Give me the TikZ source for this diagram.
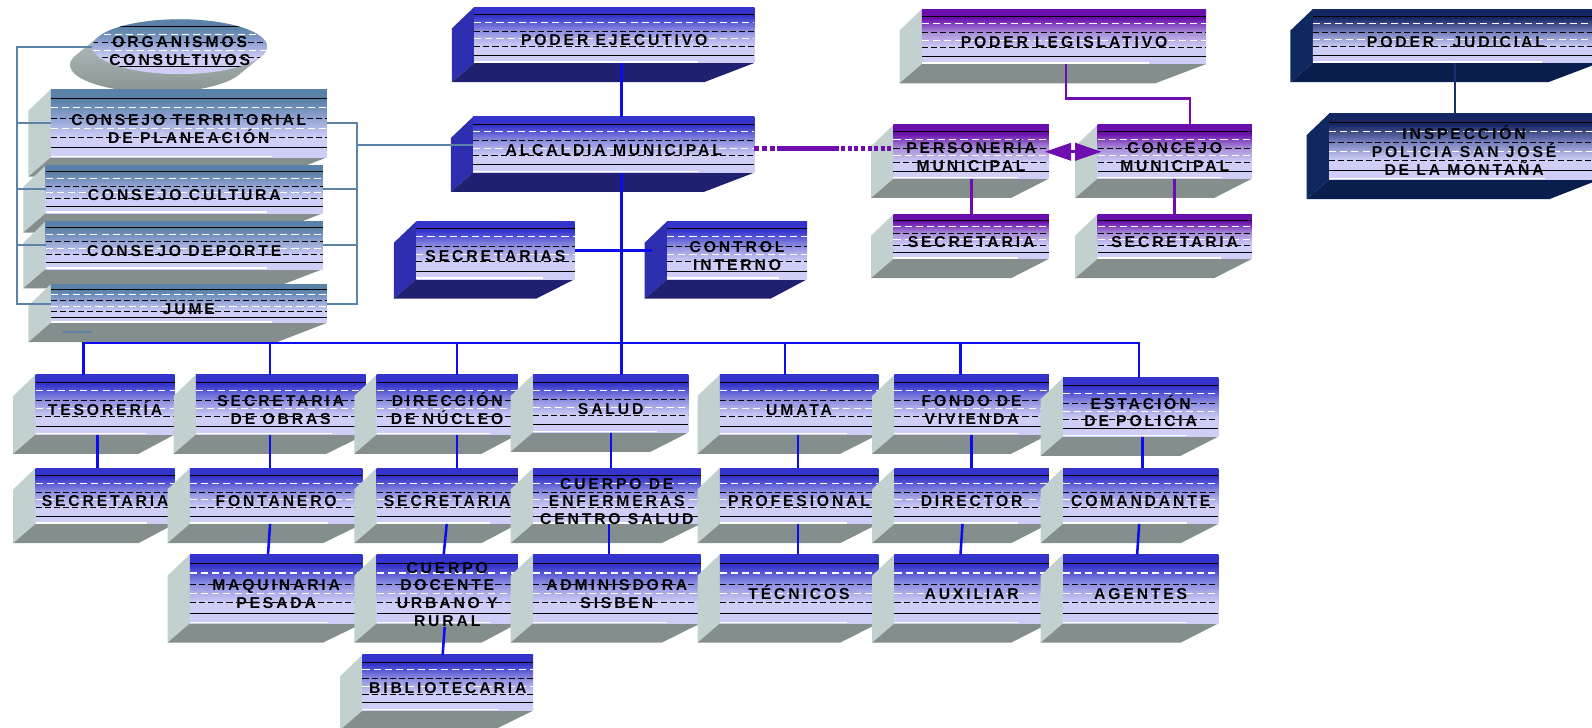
\documentclass[tikz,border=0pt]{standalone}
\usepackage{fontspec}
\newfontfamily\lab[LetterSpace=18]{Liberation Sans}
\usetikzlibrary{calc,shapes.geometric,arrows.meta}

\definecolor{lav}{RGB}{206,206,246}
\definecolor{bluetop}{RGB}{52,52,204}
\definecolor{bluemid}{RGB}{140,140,224}
\definecolor{exside}{RGB}{46,46,176}
\definecolor{exbot}{RGB}{32,32,112}
\definecolor{navytop}{RGB}{22,38,98}
\definecolor{navymid}{RGB}{115,125,185}
\definecolor{nvside}{RGB}{14,40,96}
\definecolor{nvbot}{RGB}{10,30,78}
\definecolor{purtop}{RGB}{106,14,172}
\definecolor{purmid}{RGB}{168,140,216}
\definecolor{steeltop}{RGB}{90,130,168}
\definecolor{steelmid}{RGB}{145,162,210}
\definecolor{gyside}{RGB}{194,208,207}
\definecolor{gybot}{RGB}{132,142,140}
\definecolor{lnblue}{RGB}{12,12,240}
\definecolor{lnsteel}{RGB}{92,132,170}
\definecolor{lnpur}{RGB}{110,14,176}
\definecolor{lnnavy}{RGB}{22,50,110}

\pgfdeclareverticalshading{shblue}{100bp}{color(0bp)=(lav); color(25bp)=(lav); color(40bp)=(lav); color(54bp)=(bluemid); color(67bp)=(bluetop); color(75bp)=(bluetop); color(100bp)=(bluetop)}
\pgfdeclareverticalshading{shpur}{100bp}{color(0bp)=(lav); color(25bp)=(lav); color(40bp)=(lav); color(54bp)=(purmid); color(67bp)=(purtop); color(75bp)=(purtop); color(100bp)=(purtop)}
\pgfdeclareverticalshading{shnavy}{100bp}{color(0bp)=(lav); color(25bp)=(lav); color(40bp)=(lav); color(54bp)=(navymid); color(67bp)=(navytop); color(75bp)=(navytop); color(100bp)=(navytop)}
\pgfdeclareverticalshading{shsteel}{100bp}{color(0bp)=(lav); color(25bp)=(lav); color(40bp)=(lav); color(54bp)=(steelmid); color(67bp)=(steeltop); color(75bp)=(steeltop); color(100bp)=(steeltop)}

\tikzset{
 bk/.style={black,line width=0.8pt},
 bkd/.style={black,line width=0.8pt,dash pattern=on 6pt off 3pt},
 whd/.style={white,line width=1pt,dash pattern=on 7pt off 4pt},
 frontbox/.style={rectangle,inner sep=0pt,outer sep=0pt,draw=none},
 txt/.style={font=\lab\bfseries\fontsize{15.5}{17.5}\selectfont,align=center,inner sep=0pt,text=black},
 bln/.style={draw=lnblue,line width=2.5pt},
 stl/.style={draw=lnsteel,line width=2pt},
 pln/.style={draw=lnpur,line width=2.5pt},
 nln/.style={draw=lnnavy,line width=2.5pt},
}

% name, x1, y1, x2, y2, side colour, bottom colour, shading, text
\newcommand\obox[9]{%
  \pgfmathsetmacro\obW{#4-#2}%
  \pgfmathsetmacro\obH{#5-#3}%
  \pgfmathsetmacro\obR{22+0.1*\obW}%
  \fill[#6] (#2,#3) -- (#2-22,#3+21) -- (#2-22,#5+19) -- (#2,#5) -- cycle;
  \fill[#7] (#2,#5) -- (#4,#5) -- (#4-\obR,#5+19) -- (#2-22,#5+19) -- cycle;
  \shade[shading=#8] (#2,#3) rectangle (#4,#5);
  \foreach \f in {0.13,0.86}{\draw[bk] (#2,#3+\f*\obH) -- (#4,#3+\f*\obH);}
  \foreach \f in {0.43,0.70}{\draw[bkd] (#2,#3+\f*\obH) -- (#4,#3+\f*\obH);}
  \foreach \f in {0.27,0.57}{\draw[whd] (#2,#3+\f*\obH) -- (#4,#3+\f*\obH);}
  \draw[white,line width=1.5pt] (#2,#5-1) -- (#4-0.2*\obW,#5-1);
  \node[frontbox, minimum width=\obW pt, minimum height=\obH pt] (#1) at ({(#2+#4)/2},{(#3+#5)/2}) {};
  \begin{scope}
    \clip (#2-25,#3-40) rectangle (#4+1,#5+40);
    \node[txt] (#1-t) at ($(#1)+(0,4)$) {\vphantom{Í}#9};
  \end{scope}
}

\begin{document}
\begin{tikzpicture}[x=1pt,y=-1pt]
\useasboundingbox (0,0) rectangle (1568,717);

% ---------- organismos consultivos (ellipse) ----------
\begin{scope}
  \clip (177,46) ellipse (86 and 27) \foreach \t in {1,...,20}{ (177-1.1*\t,46+0.9*\t) ellipse (86 and 27)};
  \shade[top color=gyside, bottom color=gybot] (60,10) rectangle (270,100);
\end{scope}
\begin{scope}
  \clip (177,46) ellipse (86 and 27);
  \shade[shading=shsteel] (91,19) rectangle (263,73);
  \foreach \f in {0.13,0.86}{\draw[bk] (91,19+\f*54) -- (263,19+\f*54);}
  \foreach \f in {0.43,0.70}{\draw[bkd] (91,19+\f*54) -- (263,19+\f*54);}
  \foreach \f in {0.27,0.57}{\draw[whd] (91,19+\f*54) -- (263,19+\f*54);}
\end{scope}
\node[ellipse, minimum width=172pt, minimum height=54pt, inner sep=0pt] (org) at (177,46) {};
\node[txt] (org-t) at (177,50) {ORGANISMOS\\CONSULTIVOS};

% ---------- consejos ----------
\obox{ter}{50}{88}{322}{155}{gyside}{gybot}{shsteel}{CONSEJO TERRITORIAL\\DE PLANEACIÓN}
\obox{cul}{45}{163}{318}{210}{gyside}{gybot}{shsteel}{CONSEJO CULTURA}
\obox{dep}{45}{218}{318}{265}{gyside}{gybot}{shsteel}{CONSEJO DEPORTE}
\obox{jume}{50}{280}{322}{318}{gyside}{gybot}{shsteel}{JUME}
\draw[stl] (62,327) -- (91,327);

% ---------- ejecutivo ----------
\obox{pe}{467}{7}{743}{62}{exside}{exbot}{shblue}{PODER EJECUTIVO}
\obox{alc}{466}{115}{743}{170}{exside}{exbot}{shblue}{ALCALDIA MUNICIPAL}
\obox{secs}{410}{218}{566}{275}{exside}{exbot}{shblue}{SECRETARIAS}
\obox{ctrl}{657}{218}{795}{275}{exside}{exbot}{shblue}{CONTROL\\INTERNO}

% ---------- legislativo ----------
\obox{pleg}{908}{9}{1188}{63}{gyside}{gybot}{shpur}{PODER LEGISLATIVO}
\obox{pers}{880}{123}{1033}{176}{gyside}{gybot}{shpur}{PERSONERÍA\\MUNICIPAL}
\obox{conc}{1081}{123}{1233}{176}{gyside}{gybot}{shpur}{CONCEJO\\MUNICIPAL}
\obox{lsec1}{880}{211}{1033}{255}{gyside}{gybot}{shpur}{SECRETARIA}
\obox{lsec2}{1081}{211}{1233}{255}{gyside}{gybot}{shpur}{SECRETARIA}

% ---------- judicial ----------
\obox{pj}{1293}{9}{1575}{62}{nvside}{nvbot}{shnavy}{PODER\hspace{18pt}JUDICIAL}
\obox{insp}{1309}{112}{1575}{177}{nvside}{nvbot}{shnavy}{INSPECCIÓN\\POLICIA SAN JOSÉ\\DE LA MONTAÑA}

% ---------- row 1 ----------
\obox{tes}{35}{369}{172}{428}{gyside}{gybot}{shblue}{TESORERÍA}
\obox{obr}{193}{369}{360}{428}{gyside}{gybot}{shblue}{SECRETARIA\\DE OBRAS}
\obox{dir}{371}{369}{510}{428}{gyside}{gybot}{shblue}{DIRECCIÓN\\DE NÚCLEO}
\obox{sal}{525}{369}{678}{426}{gyside}{gybot}{shblue}{SALUD}
\obox{uma}{709}{369}{865}{428}{gyside}{gybot}{shblue}{UMATA}
\obox{fon}{881}{369}{1033}{428}{gyside}{gybot}{shblue}{FONDO DE\\VIVIENDA}
\obox{est}{1047}{372}{1200}{430}{gyside}{gybot}{shblue}{ESTACIÓN\\DE POLICIA}

% ---------- row 2 ----------
\obox{s1}{35}{461}{172}{516}{gyside}{gybot}{shblue}{SECRETARIA}
\obox{fnt}{187}{461}{357}{516}{gyside}{gybot}{shblue}{FONTANERO}
\obox{s2}{371}{461}{510}{516}{gyside}{gybot}{shblue}{SECRETARIA}
\obox{enf}{525}{461}{690}{516}{gyside}{gybot}{shblue}{CUERPO DE\\ENFERMERAS\\CENTRO SALUD}
\obox{pro}{709}{461}{865}{516}{gyside}{gybot}{shblue}{PROFESIONAL}
\obox{drc}{881}{461}{1033}{516}{gyside}{gybot}{shblue}{DIRECTOR}
\obox{com}{1047}{461}{1200}{516}{gyside}{gybot}{shblue}{COMANDANTE}

% ---------- row 3 ----------
\obox{maq}{187}{546}{357}{614}{gyside}{gybot}{shblue}{MAQUINARIA\\PESADA}
\obox{doc}{371}{546}{510}{614}{gyside}{gybot}{shblue}{CUERPO\\DOCENTE\\URBANO Y\\RURAL}
\obox{adm}{525}{546}{690}{614}{gyside}{gybot}{shblue}{ADMINISDORA\\SISBEN}
\obox{tec}{709}{546}{865}{614}{gyside}{gybot}{shblue}{TÉCNICOS}
\obox{aux}{881}{546}{1033}{614}{gyside}{gybot}{shblue}{AUXILIAR}
\obox{age}{1047}{546}{1200}{614}{gyside}{gybot}{shblue}{AGENTES}

% ---------- row 4 ----------
\obox{bib}{357}{645}{525}{700}{gyside}{gybot}{shblue}{BIBLIOTECARIA}

% ---------- connectors: consultive brackets ----------
\coordinate (lb) at (17,0);
\coordinate (rb) at (352,0);
\draw[stl] (org.west) -- (org.west -| lb) -- (jume.west -| lb) -- (jume.west);
\draw[stl] (ter.west -| lb) -- (ter.west);
\draw[stl] (cul.west -| lb) -- (cul.west);
\draw[stl] (dep.west -| lb) -- (dep.west);
\draw[stl] (ter.east) -- (ter.east -| rb) -- (jume.east -| rb) -- (jume.east);
\draw[stl] (cul.east) -- (cul.east -| rb);
\draw[stl] (dep.east) -- (dep.east -| rb);
\draw[stl] (alc.west -| rb) -- (alc.west);

% ---------- executive ----------
\draw[bln] (pe.south -| 612,0) -- (alc.north -| 612,0);
\draw[bln] (alc.south -| 612,0) -- (sal.north -| 612,0);
\draw[bln] (secs.east) -- ($(ctrl.west)+(-15,0)$);

\coordinate (b1) at (82,338);
\coordinate (b2) at (266,338);
\coordinate (b3) at (450,338);
\coordinate (b5) at (773,338);
\coordinate (b6) at (946,338);
\coordinate (b7) at (1122,338);
\draw[bln] (tes.north -| b1) -- (b1) -- (b7) -- (est.north -| b7);
\draw[bln] (b2) -- (obr.north -| b2);
\draw[bln] (b3) -- (dir.north -| b3);
\draw[bln] (b5) -- (uma.north -| b5);
\draw[bln] (b6) -- (fon.north -| b6);

\draw[bln] (tes.south -| 96,0) -- (s1.north -| 96,0);
\draw[bln] (obr.south -| 266,0) -- (fnt.north -| 266,0);
\draw[bln] (dir.south -| 450,0) -- (s2.north -| 450,0);
\draw[bln] (sal.south -| 602,0) -- (enf.north -| 602,0);
\draw[bln] (uma.south -| 786,0) -- (pro.north -| 786,0);
\draw[bln] (fon.south -| 957,0) -- (drc.north -| 957,0);
\draw[bln] (est.south -| 1125,0) -- (com.north -| 1125,0);
\draw[bln] (fnt.south -| 266,0) -- (maq.north -| 264,0);
\draw[bln] (s2.south -| 440,0) -- (doc.north -| 437,0);
\draw[bln] (enf.south -| 600,0) -- (adm.north -| 600,0);
\draw[bln] (pro.south -| 786,0) -- (tec.north -| 786,0);
\draw[bln] (drc.south -| 948,0) -- (aux.north -| 946,0);
\draw[bln] (com.south -| 1122,0) -- (age.north -| 1120,0);
\draw[bln] (doc-t.south -| 438,0) -- (bib.north -| 436,0);

% ---------- legislative ----------
\coordinate (pa) at ($(alc.east)+(0,3.5)$);
\draw[lnpur, line width=4.5pt, dash pattern=on 5pt off 2.5pt] (pa) -- (pa -| 767,0);
\draw[lnpur, line width=4.5pt] (pa -| 767,0) -- (pa -| 822,0);
\draw[lnpur, line width=4.5pt, dash pattern=on 4pt off 2.5pt] (pa -| 822,0) -- (pa -| pers.west);
\draw[lnpur, line width=3pt, {Triangle[length=26pt,width=17pt]}-{Triangle[length=26pt,width=17pt]}] ($(pers.east)+(-4,0)$) -- ($(conc.west)+(4,0)$);
\draw[pln] (pleg.south -| 1050,0) -- (1050,97) -- (1172,97) -- (conc.north -| 1172,0);
\draw[pln] (pers.south -| 957,0) -- (lsec1.north -| 957,0);
\draw[pln] (conc.south -| 1157,0) -- (lsec2.north -| 1157,0);

% ---------- judicial ----------
\draw[nln] (pj.south -| 1433,0) -- (insp.north -| 1433,0);
\end{tikzpicture}
\end{document}
